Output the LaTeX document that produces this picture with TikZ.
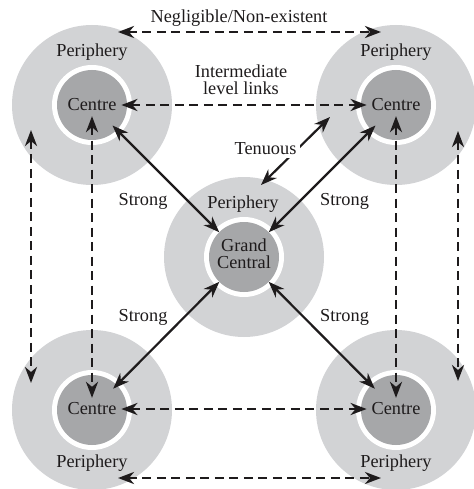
\documentclass[tikz,border=0pt]{standalone}
\usepackage{fontspec}
\setmainfont{Liberation Serif}
\usetikzlibrary{arrows.meta,calc}
\definecolor{periph}{RGB}{210,211,213}
\definecolor{core}{RGB}{166,167,169}
\definecolor{ink}{RGB}{30,27,28}
\newcommand{\lbfont}{\fontsize{18.3}{17}\selectfont}
\tikzset{
  periph/.style={circle, fill=periph, minimum size=160pt, inner sep=0pt, outer sep=0pt},
  ring/.style={circle, fill=white, minimum size=80pt, inner sep=0pt, outer sep=0pt},
  core/.style={circle, fill=core, minimum size=70pt, inner sep=0pt, outer sep=0pt},
  lbl/.style={text=ink, font=\lbfont, inner sep=0pt, anchor=base},
  ctext/.style={text=ink, font=\lbfont, inner sep=5pt, outer sep=0pt},
  dasharr/.style={draw=ink, line width=2.6pt, dash pattern=on 9pt off 5.5pt, {Stealth[length=16pt, width=12pt, inset=5pt]}-{Stealth[length=16pt, width=12pt, inset=5pt]}},
  solidarr/.style={draw=ink, line width=2.2pt, {Stealth[length=16pt, width=12pt, inset=5pt]}-{Stealth[length=16pt, width=12pt, inset=5pt]}}
}
\begin{document}
\begin{tikzpicture}[x=1pt, y=-1pt]
\useasboundingbox (0,0) rectangle (473,489);
% circles
\foreach \n/\px/\py in {tl/92/105, tr/396/105, bl/92/410, br/396/410, gc/244/257}{
  \node[periph] (\n P) at (\px,\py) {};
  \node[ring] (\n W) at (\px,\py) {};
  \node[core] (\n C) at (\px,\py) {};
}
% centre texts
\node[ctext] (tlT) at (92,105) {Centre};
\node[ctext] (trT) at (396,105) {Centre};
\node[ctext] (blT) at (92,409) {Centre};
\node[ctext] (brT) at (396,409) {Centre};
\node[ctext, inner sep=0pt, align=center] (gcT) at (244,253.5) {Grand\\Central};
% periphery labels
\node[lbl] (tlL) at (92,57) {Periphery};
\node[lbl] (trL) at (396,57) {Periphery};
\node[lbl] (blL) at (92,467.5) {Periphery};
\node[lbl] (brL) at (396,467.5) {Periphery};
\node[lbl] (gcL) at (243,208) {Periphery};
% other labels
\node[lbl] (negl) at (239,22.5) {Negligible/Non-existent};
\node[ctext, inner sep=0pt, align=center] (inter) at (241,79.5) {Intermediate\\level links};
\node[lbl] (s1) at (143,205) {Strong};
\node[lbl] (s2) at (344.5,205) {Strong};
\node[lbl] (s3) at (143,321) {Strong};
\node[lbl] (s4) at (344.5,321) {Strong};
% free ends
\coordinate (topL) at (118,32);
\coordinate (topR) at (381,32);
\coordinate (botL) at (118,478);
\coordinate (botR) at (381,478);
\coordinate (leftT) at (31,130);
\coordinate (leftB) at (31,383);
\coordinate (rightT) at (458,131);
\coordinate (rightB) at (458,381);
\coordinate (tenA) at (330,117);
\coordinate (tenB) at (261,185);
% dashed links
\draw[dasharr] (topL) -- (topR);
\draw[dasharr] (botL) -- (botR);
\draw[dasharr] (leftT) -- (leftB);
\draw[dasharr] (rightT) -- (rightB);
\draw[dasharr] (tlT.east) -- (trT.west);
\draw[dasharr] (blT.east) -- (brT.west);
\draw[dasharr] (tlT.south) -- (blT.north);
\draw[dasharr] (trT.south) -- (brT.north);
% strong links
\draw[solidarr] ($(tlC)!29pt!(gcC)$) -- ($(gcC)!35pt!(tlC)$);
\draw[solidarr] ($(trC)!29pt!(gcC)$) -- ($(gcC)!35pt!(trC)$);
\draw[solidarr] ($(blC)!30pt!(gcC)$) -- ($(gcC)!35pt!(blC)$);
\draw[solidarr] ($(brC)!30pt!(gcC)$) -- ($(gcC)!35pt!(brC)$);
% tenuous
\draw[solidarr] (tenA) -- (tenB);
\node[lbl, fill=white, inner xsep=4pt, inner ysep=3.5pt] (ten) at (265.5,154) {Tenuous};
\end{tikzpicture}
\end{document}
